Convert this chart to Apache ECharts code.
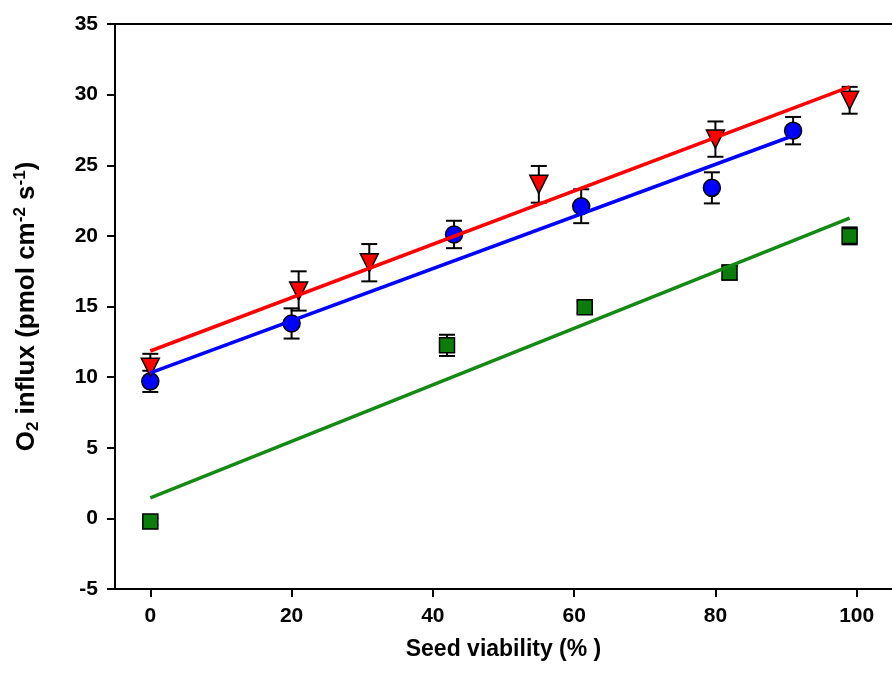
<!DOCTYPE html>
<html>
<head>
<meta charset="utf-8">
<script src="https://cdn.jsdelivr.net/npm/echarts@6/dist/echarts.min.js"></script>
<style>
  html, body { margin: 0; padding: 0; background: #fff; }
  #chart { width: 892px; height: 685px; }
</style>
</head>
<body>
<div id="chart"></div>
<script>
  // seed viability (%) and O2 influx readings, one set per treatment
  var viabilityBlue = [0, 20, 43, 61, 79.5, 91]
  var o2Blue = [9.7, 13.8, 20.1, 22.1, 23.4, 27.45]
  var errBlue = [0.75, 1.07, 0.97, 1.2, 1.1, 0.97]

  var viabilityRed = [0, 21, 31, 55, 80, 99]
  var o2Red = [10.7, 16.1, 18.1, 23.65, 26.85, 29.6]
  var errRed = [0.95, 1.39, 1.32, 1.3, 1.25, 0.95]

  var viabilityGreen = [0, 42, 61.5, 82, 99]
  var o2Green = [-0.23, 12.25, 14.95, 17.4, 20.0]
  var errGreen = [0.25, 0.75, 0.4, 0.5, 0.6]

  // regression line end points
  var fitXBlue = [0, 90.5]
  var fitYBlue = [10.3, 27.0]
  var fitXRed = [0, 99]
  var fitYRed = [11.85, 30.55]
  var fitXGreen = [0, 99]
  var fitYGreen = [1.45, 21.25]

  var xTicks = [0, 20, 40, 60, 80, 100]

  function pairs(xs, ys) {
    return xs.map(function(x, i) { return [x, ys[i]] })
  }
  function errRows(xs, ys, es) {
    return xs.map(function(x, i) { return [x, ys[i] - es[i], ys[i] + es[i]] })
  }

  function renderErr(params, api) {
    var lo = api.coord([api.value(0), api.value(1)])
    var hi = api.coord([api.value(0), api.value(2)])
    var w = 8
    var style = { stroke: '#000', lineWidth: 2 }
    return {
      type: 'group',
      children: [
        { type: 'line', shape: { x1: lo[0], y1: lo[1], x2: hi[0], y2: hi[1] }, style: style },
        { type: 'line', shape: { x1: lo[0] - w, y1: lo[1], x2: lo[0] + w, y2: lo[1] }, style: style },
        { type: 'line', shape: { x1: hi[0] - w, y1: hi[1], x2: hi[0] + w, y2: hi[1] }, style: style }
      ]
    }
  }

  var font = 'Liberation Sans, Arial, sans-serif'
  var chart = echarts.init(document.getElementById('chart'))

  chart.setOption({
    animation: false,
    grid: { left: 115, top: 24, width: 788, bottom: 96 },
    xAxis: [
      {
        type: 'value',
        min: -5,
        max: 105,
        splitLine: { show: false },
        axisLine: { onZero: false, lineStyle: { color: '#000', width: 2 } },
        axisTick: { show: true, inside: false, length: 8, lineStyle: { color: '#000', width: 2 }, customValues: xTicks },
        axisLabel: { customValues: xTicks, color: '#000', fontFamily: font, fontWeight: 'bold', fontSize: 21, margin: 17 },
        name: 'Seed viability (% )',
        nameLocation: 'middle',
        nameGap: 49,
        nameTextStyle: { color: '#000', fontFamily: font, fontWeight: 'bold', fontSize: 23 }
      },
      {
        type: 'value',
        position: 'top',
        min: -5,
        max: 105,
        splitLine: { show: false },
        axisLine: { show: true, onZero: false, lineStyle: { color: '#000', width: 2 } },
        axisTick: { show: false },
        axisLabel: { show: false }
      }
    ],
    yAxis: {
      type: 'value',
      min: -5,
      max: 35,
      interval: 5,
      splitLine: { show: false },
      axisLine: { show: true, onZero: false, lineStyle: { color: '#000', width: 2 } },
      axisTick: { show: true, inside: false, length: 8, lineStyle: { color: '#000', width: 2 } },
      axisLabel: { color: '#000', fontFamily: font, fontWeight: 'bold', fontSize: 21, margin: 17 },
      name: '{b|O}{sub|2}{b| influx (pmol cm}{sup|-2}{b| s}{sup|-1}{b|)}',
      nameLocation: 'middle',
      nameGap: 73,
      nameTextStyle: {
        color: '#000',
        fontFamily: font,
        fontWeight: 'bold',
        fontSize: 26,
        rich: {
          b: { fontFamily: font, fontWeight: 'bold', fontSize: 26, color: '#000', lineHeight: 30 },
          sub: { fontFamily: font, fontWeight: 'bold', fontSize: 17, color: '#000', verticalAlign: 'bottom', lineHeight: 30, padding: [10, 0, 0, 0] },
          sup: { fontFamily: font, fontWeight: 'bold', fontSize: 17, color: '#000', verticalAlign: 'top', lineHeight: 30, padding: [0, 0, 10, 0] }
        }
      }
    },
    series: [
      { type: 'custom', renderItem: renderErr, data: errRows(viabilityBlue, o2Blue, errBlue), z: 2, silent: true },
      { type: 'custom', renderItem: renderErr, data: errRows(viabilityRed, o2Red, errRed), z: 2, silent: true },
      { type: 'custom', renderItem: renderErr, data: errRows(viabilityGreen, o2Green, errGreen), z: 2, silent: true },
      {
        name: 'blue', type: 'scatter', data: pairs(viabilityBlue, o2Blue), symbol: 'circle', symbolSize: 17, z: 3,
        itemStyle: { color: '#0000ff', borderColor: '#000', borderWidth: 1.5, opacity: 1 }
      },
      {
        name: 'red', type: 'scatter', data: pairs(viabilityRed, o2Red), symbol: 'triangle', symbolRotate: 180, symbolSize: 18, z: 3,
        itemStyle: { color: '#ff0000', borderColor: '#000', borderWidth: 1.5, opacity: 1 }
      },
      {
        name: 'green', type: 'scatter', data: pairs(viabilityGreen, o2Green), symbol: 'rect', symbolSize: 15, z: 3,
        itemStyle: { color: '#0b7d0b', borderColor: '#000', borderWidth: 1.5, opacity: 1 }
      },
      { type: 'line', data: pairs(fitXBlue, fitYBlue), showSymbol: false, z: 4, lineStyle: { color: '#0000ff', width: 3.5 } },
      { type: 'line', data: pairs(fitXRed, fitYRed), showSymbol: false, z: 4, lineStyle: { color: '#ff0000', width: 3.5 } },
      { type: 'line', data: pairs(fitXGreen, fitYGreen), showSymbol: false, z: 4, lineStyle: { color: '#138a13', width: 3.5 } }
    ]
  })
</script>
</body>
</html>
